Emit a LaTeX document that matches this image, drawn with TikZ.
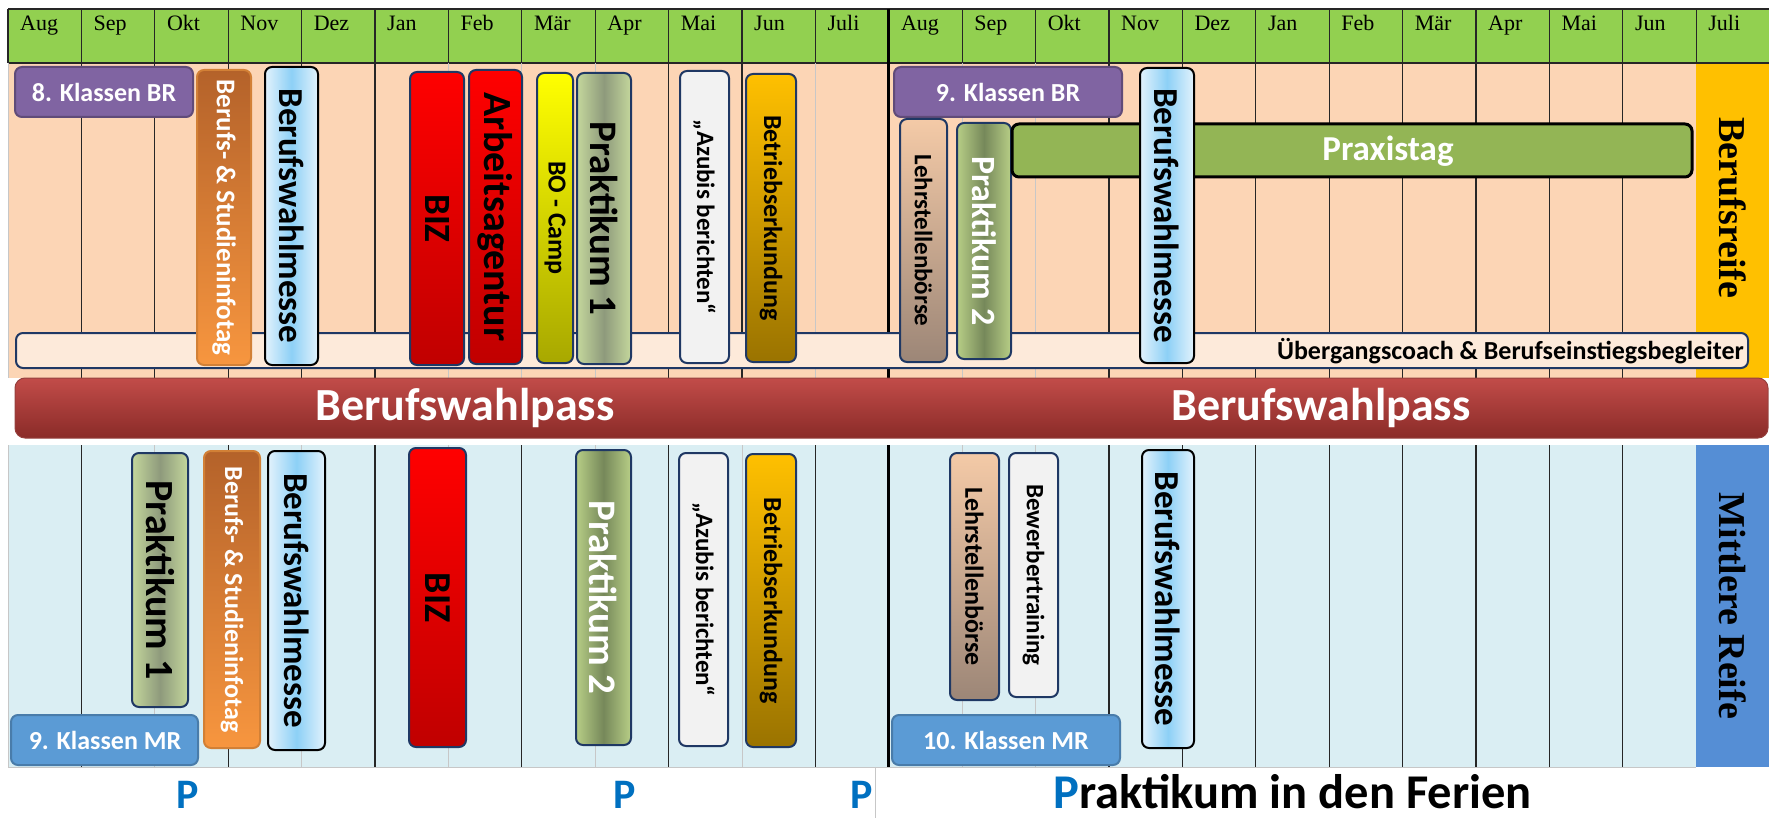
\documentclass[tikz,border=0pt]{standalone}
\usepackage{fontspec}
\setmainfont{Carlito}
\newfontfamily\timesfont{Liberation Serif}
\usepackage{graphicx}
\usetikzlibrary{positioning,calc}

\definecolor{hdrgreen}{HTML}{92D050}
\definecolor{peach}{HTML}{FCD5B5}
\definecolor{paleblue}{HTML}{DAEEF3}
\definecolor{brorange}{HTML}{FFC000}
\definecolor{mrblue}{HTML}{558ED5}
\definecolor{navy}{HTML}{1F3864}
\definecolor{classpurple}{HTML}{8064A2}
\definecolor{classblue}{HTML}{5B9BD5}
\definecolor{infotagtop}{HTML}{B4622A}
\definecolor{infotagbot}{HTML}{F7963F}
\definecolor{messeedge}{HTML}{E2F2FC}
\definecolor{messemid}{HTML}{8DD0F6}
\definecolor{bizbot}{HTML}{C00000}
\definecolor{campbot}{HTML}{A8A800}
\definecolor{praktedge}{HTML}{C4D79C}
\definecolor{praktmid}{HTML}{8E9A7C}
\definecolor{prakttwoedge}{HTML}{B7CE86}
\definecolor{prakttwomid}{HTML}{76885A}
\definecolor{greyfill}{HTML}{F2F2F2}
\definecolor{goldbot}{HTML}{9A7300}
\definecolor{boersetop}{HTML}{F4CAA7}
\definecolor{boersebot}{HTML}{9C8677}
\definecolor{praxisgreen}{HTML}{93B555}
\definecolor{coachfill}{HTML}{FDEADA}
\definecolor{passtop}{HTML}{C24C49}
\definecolor{passbot}{HTML}{8A2B28}
\definecolor{pblue}{HTML}{0070C0}

\newcommand{\setfs}[1]{\fontsize{#1}{#1}\selectfont}
\newcommand{\setbfs}[1]{\fontsize{#1}{#1}\selectfont\bfseries}

% box with a label running downwards: name, x1, y1, x2, y2, box style, label options, text
\newcommand{\vevent}[8]{%
  \draw[#6] (#2,#3) rectangle (#4,#5);
  \node[vlabel,#7] (#1) at ({(#2+#4)/2},{(#3+#5)/2}) {#8};
}

\begin{document}
\begin{tikzpicture}[x=1pt,y=-1pt,
  month/.style={font=\timesfont\setfs{22}, inner sep=0pt, anchor=base west},
  vlabel/.style={rotate=-90, inner sep=0pt},
  sidelabel/.style={rotate=-90, inner sep=0pt, font=\timesfont\setbfs{38}},
  darkline/.style={line width=1.3pt, draw=black!85},
  faintline/.style={line width=1pt, draw=black!22},
  yearline/.style={line width=3pt, draw=black},
  item/.style={rounded corners=7pt, line width=2pt, draw=navy},
  classbr/.style={item, fill=classpurple, draw=classpurple!75!black},
  classmr/.style={item, fill=classblue, draw=classblue!80!black},
  orangebox/.style={item, top color=infotagtop, bottom color=infotagbot, draw=infotagbot!85!black},
  messebox/.style={item, left color=messeedge, right color=messeedge, middle color=messemid, draw=black},
  redbox/.style={item, top color=red, bottom color=bizbot},
  yellowbox/.style={item, top color=yellow, bottom color=campbot},
  praktbox/.style={item, left color=praktedge, right color=praktedge, middle color=praktmid},
  prakttwobox/.style={item, left color=prakttwoedge, right color=prakttwoedge, middle color=prakttwomid},
  greybox/.style={item, fill=greyfill},
  goldbox/.style={item, top color=brorange, bottom color=goldbot},
  brownbox/.style={item, top color=boersetop, bottom color=boersebot},
  classtext/.style={font=\setbfs{26}, text=white, inner sep=0pt},
  pmark/.style={anchor=base west, font=\setbfs{42}, text=pblue, inner sep=0pt}]

  \useasboundingbox (0,0) rectangle (1769,818);
  \def\cw{73.4}

  % backgrounds
  \fill[hdrgreen] (8,9) rectangle (1769,63);
  \fill[peach] (8,63) rectangle (1769,378);
  \fill[paleblue] (8,445) rectangle (1769,767);
  \fill[brorange] ({8+\cw*23},63) rectangle (1769,378);
  \fill[mrblue] ({8+\cw*23},445) rectangle (1769,767);

  % month grid
  \draw[darkline] (8,9) -- (1769,9);
  \draw[darkline] (8,63) -- (1769,63);
  \draw[darkline] (8,9) -- (8,63);
  \draw[faintline] (8,63) -- (8,378);
  \draw[faintline] (8,445) -- (8,767) -- ({8+\cw*23},767);
  \foreach \i in {1,...,23}
    \draw[darkline] ({8+\cw*\i},9) -- ({8+\cw*\i},63);
  \foreach \i in {1,2,3,4,5,9,10,15,16,17,18,19,20,21,22}
    \draw[darkline] ({8+\cw*\i},63) -- ({8+\cw*\i},378);
  \foreach \i in {6,7,8,11,13,14}
    \draw[faintline] ({8+\cw*\i},63) -- ({8+\cw*\i},378);
  \foreach \i in {1,3,5,7,9,11,15,16,17,18,19,20,21,22}
    \draw[darkline] ({8+\cw*\i},445) -- ({8+\cw*\i},767);
  \foreach \i in {2,4,6,8,10,13,14}
    \draw[faintline] ({8+\cw*\i},445) -- ({8+\cw*\i},767);
  \draw[yearline] ({8+\cw*12},9) -- ({8+\cw*12},378);
  \draw[yearline] ({8+\cw*12},445) -- ({8+\cw*12},767);
  \draw[faintline] (875,767) -- (875,818);

  \foreach \m [count=\i from 0] in {Aug,Sep,Okt,Nov,Dez,Jan,Feb,Mär,Apr,Mai,Jun,Juli,Aug,Sep,Okt,Nov,Dez,Jan,Feb,Mär,Apr,Mai,Jun,Juli}
    \node[month] (m\i) at ({8+\cw*\i+12},31) {\m};

  \node[sidelabel] (brlabel) at (1733,208) {Berufsreife};
  \node[sidelabel] (mrlabel) at (1733,606) {Mittlere Reife};

  % Berufsreife
  \draw[item, fill=coachfill] (16,333) rectangle (1748,368);
  \node[anchor=base east, font=\setbfs{26}, inner sep=0pt] (coach) at (1744,359)
    {Übergangscoach \& Berufseinstiegsbegleiter};
  \draw[classbr] (15,67) rectangle (193,117);
  \node[classtext] (klbrA) at (104,92) {8. Klassen BR};
  \vevent{infotagA}{197}{70}{251}{365}{orangebox}{font=\setbfs{27}, text=white}{Berufs- \& Studieninfotag}
  \vevent{messeA}{265}{67}{318}{365}{messebox}{font=\setbfs{35}}{Berufswahlmesse}
  \vevent{bizA}{410}{72}{464}{365}{redbox}{font=\setbfs{37}}{BIZ}
  \vevent{agenturA}{469}{70}{522}{364}{redbox}{font=\setbfs{40}}{Arbeitsagentur}
  \vevent{campA}{537}{73}{573}{363}{yellowbox}{font=\setbfs{26}}{BO - Camp}
  \vevent{praktA}{577}{73}{631}{364}{praktbox}{font=\setbfs{39}}{Praktikum 1}
  \vevent{azubisA}{680}{71}{729}{363}{greybox}{font=\setbfs{25}}{„Azubis berichten“}
  \vevent{betriebA}{746}{74}{796}{362}{goldbox}{font=\setbfs{26}}{Betriebserkundung}
  \draw[classbr] (894,67) rectangle (1122,117);
  \node[classtext] (klbrB) at (1008,92) {9. Klassen BR};
  \vevent{boerseA}{900}{119}{947}{362}{brownbox}{font=\setbfs{25}}{Lehrstellenbörse}
  \vevent{praktB}{957}{123}{1011}{359}{prakttwobox}{font=\setbfs{34}, text=white}{Praktikum 2}
  \draw[item, fill=praxisgreen, draw=black, line width=3pt] (1012,124) rectangle (1692,177);
  \node[font=\setbfs{35}, text=white, inner sep=0pt] (praxis) at (1388,151) {Praxistag};
  \vevent{messeB}{1140}{68}{1194}{363}{messebox}{font=\setbfs{35}}{Berufswahlmesse}

  % Berufswahlpass
  \draw[rounded corners=10pt, top color=passtop, bottom color=passbot, draw=passbot!90!white, line width=1pt]
    (15,378) rectangle (1768,438);
  \node[font=\setbfs{46}, text=white, inner sep=0pt] (passA) at (465,408) {Berufswahlpass};
  \node[font=\setbfs{46}, text=white, inner sep=0pt] (passB) at (1321,408) {Berufswahlpass};

  % Mittlere Reife
  \vevent{praktC}{132}{453}{188}{707}{praktbox}{font=\setbfs{40}}{Praktikum 1}
  \vevent{infotagB}{204}{451}{260}{748}{orangebox}{font=\setbfs{26}, text=white}{Berufs- \& Studieninfotag}
  \vevent{messeC}{268}{451}{325}{750}{messebox}{font=\setbfs{35}}{Berufswahlmesse}
  \vevent{bizB}{409}{448}{466}{747}{redbox}{font=\setbfs{38}}{BIZ}
  \vevent{praktD}{576}{450}{631}{745}{prakttwobox}{font=\setbfs{39}, text=white}{Praktikum 2}
  \vevent{azubisB}{679}{453}{728}{746}{greybox}{font=\setbfs{25}}{„Azubis berichten“}
  \vevent{betriebB}{746}{454}{796}{747}{goldbox}{font=\setbfs{26}}{Betriebserkundung}
  \vevent{boerseB}{950}{453}{999}{700}{brownbox}{font=\setbfs{26}}{Lehrstellenbörse}
  \vevent{trainB}{1009}{453}{1058}{697}{greybox}{font=\setbfs{25}}{Bewerbertraining}
  \vevent{messeD}{1142}{450}{1194}{748}{messebox}{font=\setbfs{35}}{Berufswahlmesse}
  \draw[classmr] (11,715) rectangle (198,765);
  \node[classtext] (klmrA) at (105,740) {9. Klassen MR};
  \draw[classmr] (892,715) rectangle (1120,765);
  \node[classtext] (klmrB) at (1006,740) {10. Klassen MR};

  % Praktika
  \node[pmark] (pA) at (176,808) {P};
  \node[pmark] (pB) at (613,808) {P};
  \node[pmark] (pC) at (850,808) {P};
  \node[anchor=base west, font=\setbfs{48.5}, inner sep=0pt] (ferien) at (1053,808)
    {\textcolor{pblue}{P}raktikum in den Ferien};
\end{tikzpicture}
\end{document}
